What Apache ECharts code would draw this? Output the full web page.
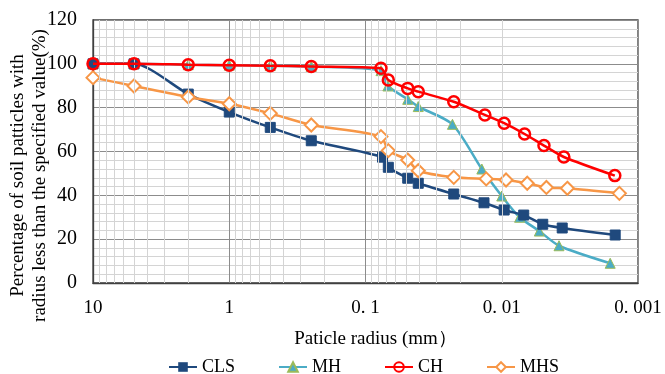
<!DOCTYPE html>
<html>
<head>
<meta charset="utf-8">
<script src="https://cdn.jsdelivr.net/npm/echarts@6/dist/echarts.min.js"></script>
<style>
html,body{margin:0;padding:0;background:#fff;}
#chart{width:665px;height:374px;}
</style>
</head>
<body>
<div id="chart"></div>
<script>
// ---- data ----
var seriesNames = ['CLS', 'MH', 'CH', 'MHS'];
var xTickValues = [10, 1, 0.1, 0.01, 0.001];
var xTickLabels = ['10', '1', '0. 1', '0. 01', '0. 001'];

var clsX = [10, 5, 2, 1, 0.5, 0.25, 0.075, 0.068, 0.049, 0.041, 0.0225, 0.0135, 0.0096, 0.0069, 0.0050, 0.0036, 0.00147];
var clsY = [100, 100, 86.2, 78, 71.0, 64.9, 57.4, 52.8, 47.8, 45.5, 40.6, 36.6, 33.3, 31.0, 26.8, 25.1, 21.9];

var mhX = [10, 5, 2, 1, 0.5, 0.25, 0.077, 0.0685, 0.049, 0.041, 0.023, 0.014, 0.0100, 0.0074, 0.0053, 0.0038, 0.0016];
var mhY = [100, 100, 99.6, 99.4, 99.2, 98.8, 96.9, 89.9, 83.8, 80.5, 72.4, 52.0, 39.7, 30.0, 23.7, 17.0, 9.0];

var chX = [10, 5, 2, 1, 0.5, 0.25, 0.077, 0.068, 0.049, 0.041, 0.0225, 0.0133, 0.0096, 0.0068, 0.0049, 0.0035, 0.00148];
var chY = [100, 100, 99.6, 99.4, 99.1, 98.8, 98.0, 92.6, 88.8, 87.3, 82.7, 76.7, 72.9, 68.0, 62.7, 57.5, 49.0];

var mhsX = [10, 5, 2, 1, 0.5, 0.25, 0.077, 0.068, 0.049, 0.041, 0.0225, 0.013, 0.0093, 0.0065, 0.0047, 0.0033, 0.00137];
var mhsY = [93.7, 89.9, 84.9, 81.8, 77.4, 72.1, 66.8, 60.4, 56.1, 51.2, 48.2, 47.5, 47.0, 45.5, 43.6, 43.2, 40.9];

function pairs(xs, ys) { return xs.map(function (x, i) { return [x, ys[i]]; }); }

// minor log gridlines (2..9 x each decade)
var minorLines = [];
[0.001, 0.01, 0.1, 1].forEach(function (d) {
  for (var k = 2; k <= 9; k++) minorLines.push({ xAxis: +(d * k).toPrecision(3) });
});

var FONT = '"Liberation Serif", "Times New Roman", serif';
var chart = echarts.init(document.getElementById('chart'), null, { renderer: 'canvas' });
chart.setOption({
  animation: false,
  backgroundColor: '#fff',
  textStyle: { fontFamily: FONT, color: '#000' },
  grid: { left: 93, right: 27, top: 20, bottom: 91, containLabel: false, outerBoundsMode: 'none',
          show: true, borderColor: '#404040', borderWidth: 1.3, backgroundColor: 'transparent' },
  legend: {
    top: 353, left: 163, itemGap: 43, itemWidth: 28, itemHeight: 12,
    textStyle: { fontFamily: FONT, fontSize: 18, color: '#000' },
    data: seriesNames
  },
  xAxis: {
    type: 'log', logBase: 10, min: 0.001, max: 10, inverse: true,
    name: 'Paticle radius (mm）', nameLocation: 'middle', nameGap: 47, nameMoveOverlap: false,
    nameTextStyle: { fontFamily: FONT, fontSize: 19, color: '#000', padding: [0, 0, 0, 20] },
    axisLine: { show: true, lineStyle: { color: '#404040', width: 1.3 } },
    axisTick: { show: false },
    axisLabel: {
      margin: 16, fontSize: 19, color: '#000', fontFamily: FONT,
      formatter: function (v) {
        for (var i = 0; i < xTickValues.length; i++) if (Math.abs(Math.log10(v) - Math.log10(xTickValues[i])) < 1e-6) return xTickLabels[i];
        return '';
      }
    },
    splitLine: { show: true, lineStyle: { color: '#8c8c8c', width: 1 } }
  },
  yAxis: {
    type: 'value', min: 0, max: 120, interval: 20,
    name: 'Percentage of soil patticles with\nradius less than the specified value(%)',
    nameLocation: 'middle', nameGap: 42, nameMoveOverlap: false,
    nameTextStyle: { fontFamily: FONT, fontSize: 19, color: '#000', lineHeight: 22, padding: [0, 48, 0, 0] },
    axisLine: { show: true, lineStyle: { color: '#404040', width: 1.3 } },
    axisTick: { show: false },
    axisLabel: { margin: 16, fontSize: 20, color: '#000', fontFamily: FONT },
    splitLine: { show: true, lineStyle: { color: '#8c8c8c', width: 1 } },
    minorTick: { show: false, splitNumber: 5 },
    minorSplitLine: { show: true, lineStyle: { color: '#d4d4d4', width: 1 } }
  },
  series: [
    {
      name: '_grid', type: 'line', data: [], silent: true, z: 0, legendHoverLink: false,
      markLine: {
        silent: true, symbol: ['none', 'none'], label: { show: false }, animation: false,
        lineStyle: { color: '#d4d4d4', width: 1, type: 'solid' },
        emphasis: { disabled: true },
        data: minorLines
      }
    },
    {
      name: 'CLS', type: 'line', smooth: 0.25, data: pairs(clsX, clsY), z: 4,
      symbol: 'rect', symbolSize: 10,
      lineStyle: { color: '#1F497D', width: 2.5 },
      itemStyle: { color: '#1F497D', borderColor: '#1F497D' }
    },
    {
      name: 'MH', type: 'line', smooth: 0.25, data: pairs(mhX, mhY), z: 3,
      symbol: 'triangle', symbolSize: 10,
      lineStyle: { color: '#4BACC6', width: 2.5 },
      itemStyle: { color: '#4BACC6', borderColor: '#9BBB59', borderWidth: 1 }
    },
    {
      name: 'CH', type: 'line', smooth: 0.25, data: pairs(chX, chY), z: 5,
      symbol: 'circle', symbolSize: 11,
      lineStyle: { color: '#FF0000', width: 2.5 },
      itemStyle: { color: 'rgba(255,255,255,0)', borderColor: '#FF0000', borderWidth: 2.5 }
    },
    {
      name: 'MHS', type: 'line', smooth: 0.25, data: pairs(mhsX, mhsY), z: 4,
      symbol: 'diamond', symbolSize: 13,
      lineStyle: { color: '#F79646', width: 2.5 },
      itemStyle: { color: '#fff', borderColor: '#F79646', borderWidth: 2 }
    }
  ]
});
</script>
</body>
</html>
